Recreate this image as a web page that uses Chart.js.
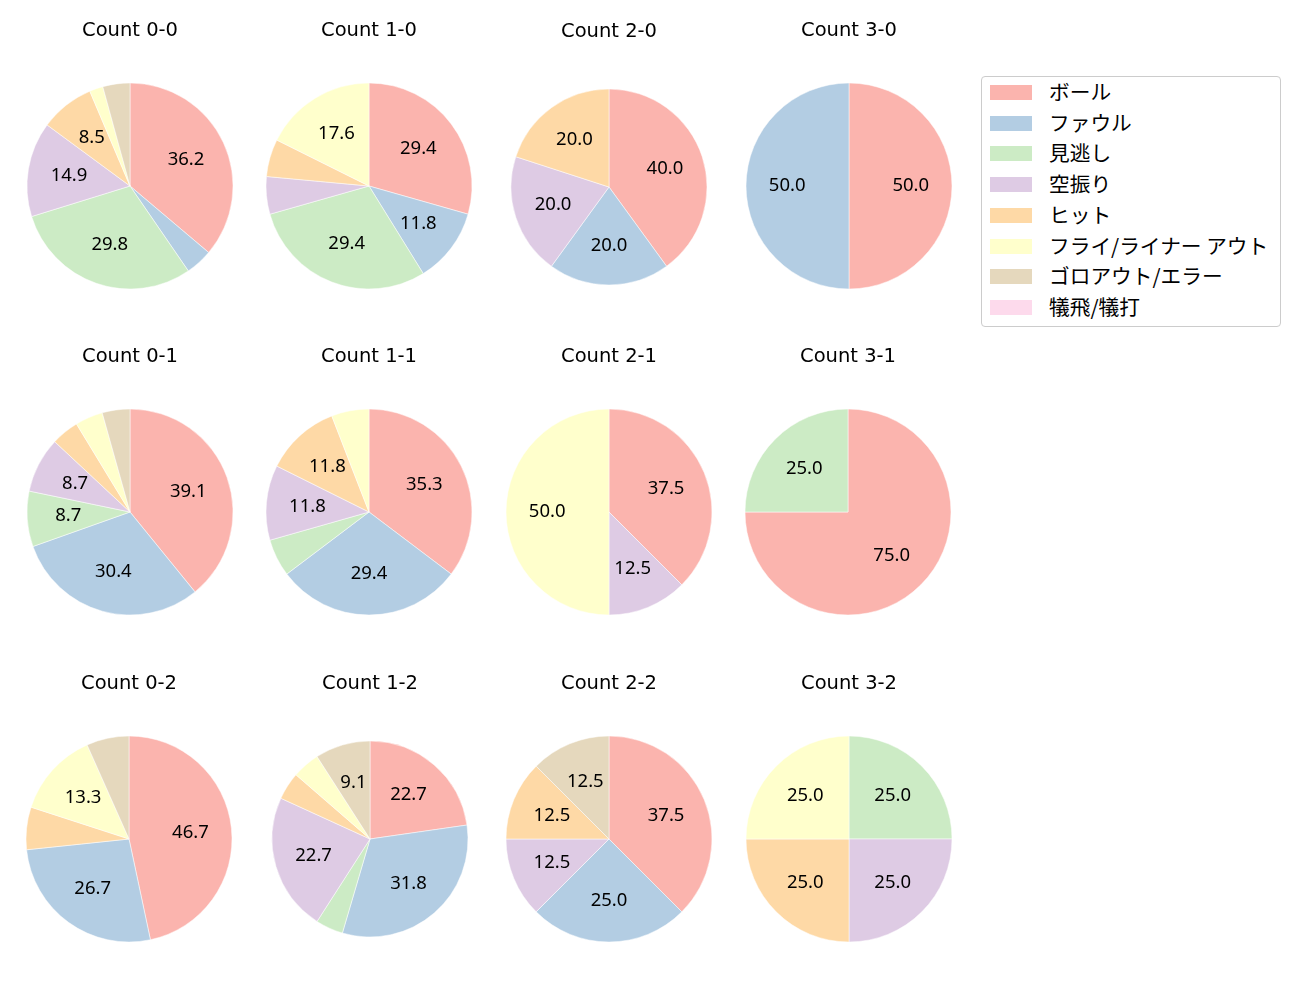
<!DOCTYPE html>
<html>
<head>
<meta charset="utf-8">
<script src="https://cdn.jsdelivr.net/npm/chart.js@4.4.1/dist/chart.umd.min.js"></script>
<style>
  body { margin: 0; background: #fff; font-family: "Noto Sans CJK JP", sans-serif; }
  #fig { position: relative; width: 1300px; height: 1000px; }
  #fig canvas { position: absolute; }
  .legend { position: absolute; left: 981px; top: 76px; width: 298px; height: 249px;
            border: 1px solid #cccccc; border-radius: 4px; background: #fff; }
  .legend .row { position: absolute; left: 0; height: 20px; }
  .legend .sw { position: absolute; left: 8px; top: 1px; width: 42px; height: 15px; }
  .legend .lbl { position: absolute; left: 67px; top: -7px; white-space: nowrap;
                 font-size: 20.7px; line-height: 28px; color: #000; }
</style>
</head>
<body>
<div id="fig"></div>
<script>
// カテゴリと色 (matplotlib Pastel1)
const categories = ['ボール', 'ファウル', '見逃し', '空振り', 'ヒット', 'フライ/ライナー アウト', 'ゴロアウト/エラー', '犠飛/犠打'];
const colors = ['#fbb4ae', '#b3cde3', '#ccebc5', '#decbe4', '#fed9a6', '#ffffcc', '#e5d8bd', '#fddaec'];

// 球数 (カテゴリ順)
const count00 = [17, 2, 14, 7, 4, 1, 2, 0];
const count10 = [5, 2, 5, 1, 1, 3, 0, 0];
const count20 = [2, 1, 0, 1, 1, 0, 0, 0];
const count30 = [1, 1, 0, 0, 0, 0, 0, 0];
const count01 = [9, 7, 2, 2, 1, 1, 1, 0];
const count11 = [6, 5, 1, 2, 2, 1, 0, 0];
const count21 = [3, 0, 0, 1, 0, 4, 0, 0];
const count31 = [3, 0, 1, 0, 0, 0, 0, 0];
const count02 = [7, 4, 0, 0, 1, 2, 1, 0];
const count12 = [5, 7, 1, 5, 1, 1, 2, 0];
const count22 = [3, 2, 0, 1, 1, 0, 1, 0];
const count32 = [0, 0, 1, 1, 1, 1, 0, 0];

const panels = [
  { title: 'Count 0-0', data: count00, cx: 129.5, cy: 186, r: 103 },
  { title: 'Count 1-0', data: count10, cx: 369, cy: 186, r: 103 },
  { title: 'Count 2-0', data: count20, cx: 609, cy: 186.5, r: 98 },
  { title: 'Count 3-0', data: count30, cx: 848.5, cy: 186, r: 103 },
  { title: 'Count 0-1', data: count01, cx: 129.5, cy: 512, r: 103 },
  { title: 'Count 1-1', data: count11, cx: 369, cy: 512, r: 103 },
  { title: 'Count 2-1', data: count21, cx: 608.5, cy: 512, r: 103 },
  { title: 'Count 3-1', data: count31, cx: 848, cy: 512, r: 103 },
  { title: 'Count 0-2', data: count02, cx: 128.5, cy: 838.5, r: 103 },
  { title: 'Count 1-2', data: count12, cx: 370, cy: 838.5, r: 98 },
  { title: 'Count 2-2', data: count22, cx: 608.5, cy: 838.5, r: 103 },
  { title: 'Count 3-2', data: count32, cx: 848.5, cy: 838.5, r: 103 }
];

// パーセント表示 (小さい扇形は省略)
const pctLabels = {
  id: 'pctLabels',
  afterDatasetsDraw(chart) {
    const ctx = chart.ctx;
    const vals = chart.data.datasets[0].data;
    const total = vals.reduce((a, b) => a + b, 0);
    const meta = chart.getDatasetMeta(0);
    ctx.save();
    ctx.font = '18.5px "Noto Sans"';
    ctx.fillStyle = '#000';
    ctx.textAlign = 'center';
    ctx.textBaseline = 'middle';
    meta.data.forEach((arc, i) => {
      const pct = vals[i] / total * 100;
      if (pct < 7) return;
      const p = arc.getProps(['x', 'y', 'startAngle', 'endAngle', 'outerRadius'], true);
      const mid = (p.startAngle + p.endAngle) / 2;
      const d = p.outerRadius * 0.6;
      ctx.fillText(pct.toFixed(1), p.x + Math.cos(mid) * d, p.y + Math.sin(mid) * d);
    });
    ctx.restore();
  }
};

const TITLE_SIZE = 19.5;
const TITLE_TOP = 31 - 0.6 * TITLE_SIZE;
const TITLE_H = TITLE_TOP + 1.2 * TITLE_SIZE;

const fig = document.getElementById('fig');
panels.forEach(p => {
  const c = document.createElement('canvas');
  c.width = 240; c.height = 372;
  c.style.left = (p.cx - 120) + 'px';
  c.style.top = (p.cy - 186) + 'px';
  fig.appendChild(c);
  new Chart(c, {
    type: 'pie',
    data: {
      labels: categories,
      datasets: [{
        data: p.data,
        backgroundColor: colors,
        borderColor: '#ffffff',
        borderWidth: ctx => ctx.raw > 0 ? 0.5 : 0,
        radius: p.r
      }]
    },
    options: {
      responsive: false,
      animation: false,
      events: [],
      layout: { padding: { bottom: TITLE_H } },
      plugins: {
        legend: { display: false },
        tooltip: { enabled: false },
        title: {
          display: true,
          text: p.title,
          color: '#000',
          font: { family: '"DejaVu Sans"', size: TITLE_SIZE, weight: 'normal', lineHeight: 1.2 },
          padding: { top: TITLE_TOP, bottom: 0 }
        }
      }
    },
    plugins: [pctLabels]
  });
});

// 凡例
const leg = document.createElement('div');
leg.className = 'legend';
categories.forEach((name, i) => {
  const row = document.createElement('div');
  row.className = 'row';
  row.style.top = (7 + i * 30.7) + 'px';
  row.style.width = '290px';
  row.innerHTML = '<div class="sw" style="background:' + colors[i] + '"></div><div class="lbl">' + name + '</div>';
  leg.appendChild(row);
});
fig.appendChild(leg);
</script>
</body>
</html>
